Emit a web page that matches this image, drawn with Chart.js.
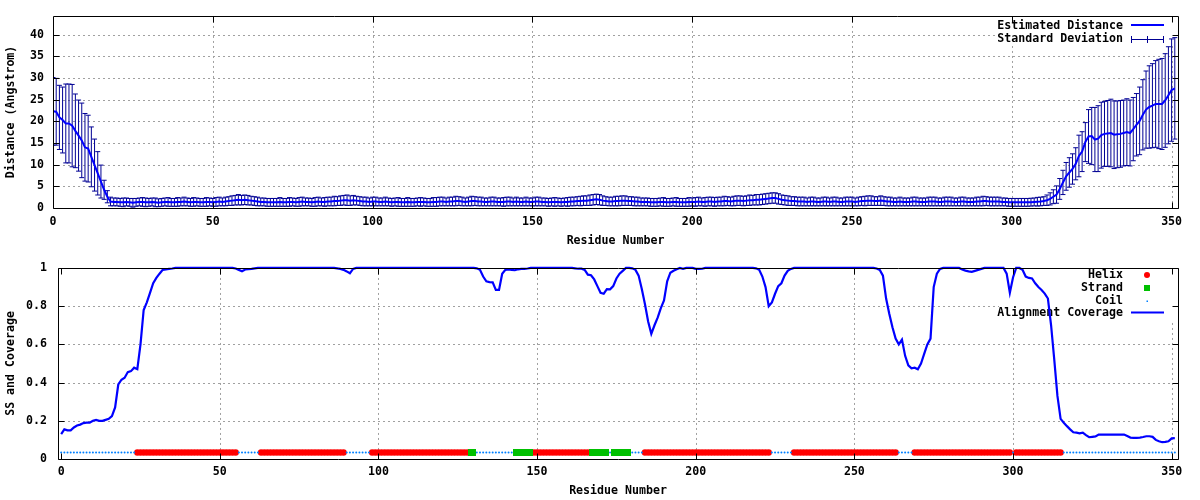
<!DOCTYPE html>
<html>
<head>
<meta charset="utf-8">
<script src="https://cdn.jsdelivr.net/npm/chart.js@4.4.0/dist/chart.umd.min.js"></script>
<style>
  html, body { margin: 0; padding: 0; background: #fff; }
  .panel { position: absolute; left: 0; width: 1200px; height: 250px; }
</style>
</head>
<body>
<div class="panel" style="top:0"><canvas id="distChart" width="1200" height="250"></canvas></div>
<div class="panel" style="top:250px"><canvas id="covChart" width="1200" height="250"></canvas></div>

<script>
/* ═══════════════════════════════════════════
   Distance / SS & coverage plot
═══════════════════════════════════════════ */

// ── Data ──
const residueTicks  = [0, 50, 100, 150, 200, 250, 300, 350];
const distanceTicks = [0, 5, 10, 15, 20, 25, 30, 35, 40];
const coverageTicks = [0, 0.2, 0.4, 0.6, 0.8, 1];

const distance = [
  22.3, 22.2, 20.9, 20.3, 19.5, 19.5, 19.0, 17.8, 16.7, 15.6,
  14.0, 13.7, 11.8, 9.9, 8.0, 6.1, 4.2, 2.6, 1.5, 1.4,
  1.4, 1.3, 1.3, 1.4, 1.3, 1.2, 1.3, 1.4, 1.4, 1.3,
  1.3, 1.4, 1.3, 1.2, 1.3, 1.4, 1.4, 1.3, 1.3, 1.4,
  1.4, 1.5, 1.4, 1.3, 1.4, 1.4, 1.3, 1.3, 1.4, 1.4,
  1.3, 1.4, 1.5, 1.4, 1.5, 1.6, 1.7, 1.8, 1.9, 1.8,
  1.9, 1.8, 1.7, 1.6, 1.5, 1.4, 1.4, 1.3, 1.3, 1.3,
  1.3, 1.4, 1.3, 1.3, 1.4, 1.4, 1.3, 1.4, 1.5, 1.4,
  1.4, 1.3, 1.4, 1.5, 1.4, 1.4, 1.5, 1.5, 1.6, 1.6,
  1.7, 1.8, 1.8, 1.7, 1.8, 1.7, 1.6, 1.5, 1.5, 1.4,
  1.5, 1.5, 1.4, 1.4, 1.5, 1.4, 1.3, 1.4, 1.4, 1.3,
  1.3, 1.4, 1.3, 1.3, 1.4, 1.4, 1.4, 1.3, 1.3, 1.4,
  1.4, 1.5, 1.5, 1.4, 1.5, 1.5, 1.6, 1.6, 1.5, 1.4,
  1.5, 1.6, 1.6, 1.5, 1.5, 1.4, 1.4, 1.5, 1.5, 1.4,
  1.4, 1.4, 1.5, 1.5, 1.4, 1.5, 1.4, 1.4, 1.5, 1.4,
  1.4, 1.5, 1.5, 1.4, 1.4, 1.3, 1.4, 1.4, 1.4, 1.3,
  1.4, 1.4, 1.5, 1.5, 1.6, 1.6, 1.7, 1.7, 1.8, 1.9,
  2.0, 1.9, 1.7, 1.6, 1.5, 1.5, 1.6, 1.6, 1.7, 1.7,
  1.6, 1.6, 1.5, 1.5, 1.4, 1.4, 1.4, 1.3, 1.3, 1.3,
  1.4, 1.4, 1.3, 1.3, 1.4, 1.4, 1.3, 1.3, 1.3, 1.4,
  1.4, 1.4, 1.5, 1.4, 1.4, 1.5, 1.5, 1.4, 1.5, 1.5,
  1.6, 1.6, 1.5, 1.6, 1.7, 1.7, 1.6, 1.7, 1.8, 1.8,
  1.9, 1.9, 2.0, 2.1, 2.2, 2.3, 2.3, 2.1, 1.9, 1.8,
  1.7, 1.6, 1.6, 1.5, 1.5, 1.5, 1.4, 1.5, 1.5, 1.4,
  1.4, 1.5, 1.5, 1.4, 1.5, 1.5, 1.4, 1.4, 1.5, 1.5,
  1.5, 1.4, 1.5, 1.6, 1.6, 1.7, 1.7, 1.6, 1.6, 1.7,
  1.6, 1.5, 1.5, 1.4, 1.4, 1.5, 1.4, 1.4, 1.4, 1.5,
  1.5, 1.4, 1.4, 1.4, 1.5, 1.5, 1.5, 1.4, 1.4, 1.5,
  1.5, 1.5, 1.4, 1.4, 1.5, 1.5, 1.4, 1.4, 1.4, 1.5,
  1.5, 1.6, 1.6, 1.5, 1.5, 1.5, 1.5, 1.4, 1.4, 1.3,
  1.3, 1.3, 1.3, 1.3, 1.3, 1.3, 1.35, 1.4, 1.45, 1.5,
  1.6, 1.8, 2.1, 2.6, 3.1, 4.4, 5.9, 7.3, 8.2, 9.0,
  10.2, 12.0, 13.0, 15.2, 16.5, 16.6, 15.8, 16.0, 16.8, 17.1,
  17.2, 17.3, 16.9, 17.0, 17.1, 17.3, 17.5, 17.3, 18.2, 19.2,
  20.1, 21.5, 22.7, 23.3, 23.6, 24.0, 24.0, 24.0, 24.8, 26.0,
  27.2, 27.6
];

const stdDev = [
  7.8, 7.7, 7.4, 7.6, 9.1, 9.1, 9.5, 8.5, 8.2, 8.6,
  7.8, 7.7, 6.9, 6.0, 5.0, 3.8, 2.2, 1.4, 1.0, 0.9,
  0.9, 0.9, 1.0, 0.9, 0.9, 1.0, 0.9, 0.9, 1.0, 1.0,
  0.9, 0.9, 1.0, 0.9, 0.9, 0.9, 1.0, 0.9, 0.9, 1.0,
  0.9, 1.0, 0.9, 0.9, 1.0, 0.9, 0.9, 0.9, 1.0, 0.9,
  0.9, 1.0, 1.0, 0.9, 1.0, 1.0, 1.1, 1.1, 1.2, 1.1,
  1.1, 1.1, 1.0, 1.0, 1.0, 0.9, 0.9, 0.9, 0.9, 0.9,
  0.9, 1.0, 0.9, 0.9, 1.0, 0.9, 0.9, 1.0, 1.0, 0.9,
  0.9, 0.9, 1.0, 1.0, 0.9, 1.0, 1.0, 1.0, 1.1, 1.0,
  1.1, 1.1, 1.2, 1.1, 1.1, 1.0, 1.0, 1.0, 1.0, 0.9,
  1.0, 1.0, 0.9, 0.9, 1.0, 0.9, 0.9, 0.9, 1.0, 0.9,
  0.9, 1.0, 0.9, 0.9, 0.9, 1.0, 0.9, 0.9, 0.9, 1.0,
  1.0, 1.0, 1.0, 0.9, 1.0, 1.0, 1.1, 1.0, 1.0, 0.9,
  1.0, 1.1, 1.0, 1.0, 1.0, 0.9, 0.9, 1.0, 1.0, 0.9,
  0.9, 1.0, 1.0, 1.0, 0.9, 1.0, 0.9, 0.9, 1.0, 0.9,
  0.9, 1.0, 1.0, 0.9, 0.9, 0.9, 0.9, 1.0, 0.9, 0.9,
  0.9, 1.0, 1.0, 1.0, 1.0, 1.1, 1.1, 1.1, 1.2, 1.2,
  1.2, 1.2, 1.1, 1.0, 1.0, 1.0, 1.1, 1.1, 1.1, 1.1,
  1.0, 1.0, 1.0, 1.0, 0.9, 0.9, 0.9, 0.9, 0.9, 0.9,
  0.9, 1.0, 0.9, 0.9, 0.9, 1.0, 0.9, 0.9, 0.9, 1.0,
  0.9, 1.0, 1.0, 0.9, 1.0, 1.0, 1.0, 1.0, 1.0, 1.0,
  1.1, 1.0, 1.0, 1.1, 1.1, 1.1, 1.1, 1.1, 1.2, 1.1,
  1.2, 1.2, 1.2, 1.2, 1.2, 1.2, 1.2, 1.2, 1.1, 1.1,
  1.1, 1.0, 1.0, 1.0, 1.0, 1.0, 0.9, 1.0, 1.0, 0.9,
  0.9, 1.0, 1.0, 0.9, 1.0, 1.0, 0.9, 0.9, 1.0, 1.0,
  1.0, 0.9, 1.0, 1.0, 1.1, 1.1, 1.1, 1.0, 1.0, 1.1,
  1.0, 1.0, 1.0, 0.9, 0.9, 1.0, 0.9, 0.9, 0.9, 1.0,
  1.0, 0.9, 0.9, 0.9, 1.0, 1.0, 1.0, 0.9, 0.9, 1.0,
  1.0, 1.0, 0.9, 0.9, 1.0, 1.0, 0.9, 0.9, 0.9, 1.0,
  1.0, 1.1, 1.0, 1.0, 1.0, 1.0, 1.0, 0.9, 0.9, 0.9,
  0.9, 0.9, 0.9, 0.9, 0.9, 0.9, 0.9, 0.9, 1.0, 1.0,
  1.0, 1.2, 1.4, 1.6, 2.0, 2.4, 2.8, 3.2, 3.4, 3.5,
  3.7, 4.8, 4.6, 4.5, 6.2, 6.6, 7.4, 7.6, 7.6, 7.5,
  7.6, 7.8, 7.8, 7.7, 7.7, 7.6, 7.7, 7.6, 7.3, 7.2,
  7.8, 8.1, 8.9, 9.5, 9.7, 10.0, 10.3, 10.5, 10.8, 11.2,
  11.8, 11.7
];

const coverage = [
  0.13, 0.155, 0.15, 0.15, 0.165, 0.175, 0.18, 0.188, 0.19, 0.19,
  0.2, 0.205, 0.2, 0.2, 0.205, 0.21, 0.225, 0.27, 0.39, 0.415,
  0.425, 0.455, 0.46, 0.478, 0.47, 0.6, 0.78, 0.82, 0.87, 0.92,
  0.948, 0.97, 0.99, 0.993, 0.995, 0.997, 1, 1, 1, 1,
  1, 1, 1, 1, 1, 1, 1, 1, 1, 1,
  1, 1, 1, 1, 1, 0.997, 0.99, 0.983, 0.992, 0.994,
  0.995, 0.998, 1, 1, 1, 1, 1, 1, 1, 1,
  1, 1, 1, 1, 1, 1, 1, 1, 1, 1,
  1, 1, 1, 1, 1, 1, 1, 0.998, 0.995, 0.99,
  0.982, 0.972, 0.995, 1, 1, 1, 1, 1, 1, 1,
  1, 1, 1, 1, 1, 1, 1, 1, 1, 1,
  1, 1, 1, 1, 1, 1, 1, 1, 1, 1,
  1, 1, 1, 1, 1, 1, 1, 1, 1, 1,
  1, 0.998, 0.99, 0.955, 0.93, 0.926, 0.925, 0.885, 0.885, 0.97,
  0.99, 0.992, 0.99, 0.988, 0.993, 0.995, 0.995, 0.997, 1, 1,
  1, 1, 1, 1, 1, 1, 1, 1, 1, 1,
  1, 1, 0.998, 0.996, 0.996, 0.99, 0.965, 0.962, 0.94, 0.905,
  0.87, 0.865, 0.889, 0.888, 0.905, 0.945, 0.97, 0.985, 1, 1,
  0.998, 0.99, 0.96, 0.89, 0.81, 0.72, 0.655, 0.7, 0.74, 0.79,
  0.83, 0.93, 0.975, 0.985, 0.993, 1, 0.995, 1, 1, 1,
  0.995, 0.995, 0.996, 1, 1, 1, 1, 1, 1, 1,
  1, 1, 1, 1, 1, 1, 1, 1, 1, 0.998,
  0.99, 0.955, 0.9, 0.8, 0.82, 0.865, 0.905, 0.92, 0.96, 0.985,
  0.995, 1, 1, 1, 1, 1, 1, 1, 1, 1,
  1, 1, 1, 1, 1, 1, 1, 1, 1, 1,
  1, 1, 1, 1, 1, 1, 1, 0.997, 0.99, 0.96,
  0.84, 0.76, 0.69, 0.63, 0.6, 0.625, 0.54, 0.49, 0.475, 0.478,
  0.47, 0.5, 0.55, 0.6, 0.63, 0.9, 0.97, 0.995, 1, 1,
  1, 1, 1, 1, 0.992, 0.986, 0.982, 0.98, 0.985, 0.99,
  0.995, 1, 1, 1, 1, 1, 1, 1, 0.97, 0.87,
  0.95, 1, 1, 0.99, 0.955, 0.948, 0.945, 0.92, 0.9, 0.885,
  0.866, 0.84, 0.7, 0.52, 0.33, 0.21, 0.19, 0.172, 0.155, 0.14,
  0.138, 0.134, 0.138, 0.125, 0.114, 0.116, 0.118, 0.128, 0.128, 0.128,
  0.128, 0.128, 0.128, 0.128, 0.128, 0.128, 0.12, 0.112, 0.111, 0.111,
  0.112, 0.115, 0.119, 0.119, 0.116, 0.1, 0.093, 0.088, 0.09, 0.093,
  0.108, 0.109
];

// secondary structure, as [first, last] residue runs
const helixRuns  = [[24, 55], [63, 89], [98, 128], [149, 166], [184, 223], [231, 263], [269, 299], [301, 315]];
const strandRuns = [[129, 130], [143, 148], [167, 172], [174, 179]];
const SS_LEVEL   = 0.034;

const residues = distance.map((_, i) => i);

// ── Derived point lists ──
const inRuns = (r, runs) => runs.some(([a, b]) => r >= a && r <= b);

const distPts = residues.map(r => ({ x: r, y: distance[r] }));
const whiskerPts = [];
residues.forEach(r => {
  whiskerPts.push({ x: r, y: distance[r] - stdDev[r] });
  whiskerPts.push({ x: r, y: distance[r] + stdDev[r] });
  whiskerPts.push({ x: r, y: null });
});

const covPts    = residues.map(r => ({ x: r, y: coverage[r] }));
const helixPts  = residues.filter(r => inRuns(r, helixRuns)).map(r => ({ x: r, y: SS_LEVEL }));
const strandPts = residues.filter(r => inRuns(r, strandRuns)).map(r => ({ x: r, y: SS_LEVEL }));
const coilPts   = residues.filter(r => !inRuns(r, helixRuns) && !inRuns(r, strandRuns)).map(r => ({ x: r, y: SS_LEVEL }));

// ── Look ──
const FONT = { family: "'DejaVu Sans Mono', monospace", size: 11.6, weight: 'bold', lineHeight: 1.2 };
const CSS_FONT = "bold 11.6px 'DejaVu Sans Mono', monospace";

const BLUE   = '#0000ff';
const NAVY   = '#000094';
const RED    = '#ff0000';
const GREEN  = '#00c000';
const COIL   = '#0080ff';

Chart.defaults.font  = FONT;
Chart.defaults.color = '#000';

// strand marker: a narrow filled box, so neighbouring runs keep a gap
const strandMark = document.createElement('canvas');
strandMark.width = 4; strandMark.height = 7;
(c => { c.fillStyle = GREEN; c.fillRect(0, 0, 4, 7); })(strandMark.getContext('2d'));

// ── gnuplot-like frame: dashed grid, opaque key, border, inward tics ──
function drawSample(ctx, s, x, y) {
  ctx.save();
  if (s.kind === 'line') {
    ctx.strokeStyle = s.color; ctx.lineWidth = 2;
    ctx.beginPath(); ctx.moveTo(x - 16, y); ctx.lineTo(x + 17, y); ctx.stroke();
  } else if (s.kind === 'errbar') {
    ctx.strokeStyle = s.color; ctx.lineWidth = 1;
    ctx.beginPath();
    ctx.moveTo(x - 16, y + 0.5); ctx.lineTo(x + 17, y + 0.5);
    [x - 15.5, x + 0.5, x + 16.5].forEach(px => { ctx.moveTo(px, y - 3); ctx.lineTo(px, y + 4); });
    ctx.stroke();
  } else if (s.kind === 'circle') {
    ctx.fillStyle = s.color;
    ctx.beginPath(); ctx.arc(x, y, 3, 0, Math.PI * 2); ctx.fill();
  } else if (s.kind === 'square') {
    ctx.fillStyle = s.color; ctx.fillRect(x - 3, y - 3, 6, 6);
  } else if (s.kind === 'dot') {
    ctx.fillStyle = s.color; ctx.fillRect(x - 0.5, y - 0.5, 1.5, 1.5);
  }
  ctx.restore();
}

const gnuFrame = {
  id: 'gnuFrame',
  beforeDatasetsDraw(chart, args, o) {
    const { ctx, chartArea: a, scales: { x, y } } = chart;
    ctx.save();
    ctx.strokeStyle = '#a0a0a0';
    ctx.lineWidth = 1;
    ctx.setLineDash([2, 3]);
    ctx.beginPath();
    o.gridX.forEach(v => {
      const px = Math.round(x.getPixelForValue(v)) + 0.5;
      ctx.moveTo(px, a.top); ctx.lineTo(px, a.bottom);
    });
    o.gridY.forEach(v => {
      const py = Math.round(y.getPixelForValue(v)) + 0.5;
      ctx.moveTo(a.left, py); ctx.lineTo(a.right, py);
    });
    ctx.stroke();
    ctx.setLineDash([]);

    // key
    const k = o.key;
    ctx.fillStyle = '#fff';
    ctx.fillRect(k.box[0], k.box[1], k.box[2], k.box[3]);
    ctx.font = CSS_FONT;
    ctx.textAlign = 'right';
    ctx.textBaseline = 'middle';
    k.items.forEach(it => {
      ctx.fillStyle = '#000';
      ctx.fillText(it.text, k.textX, it.y);
      drawSample(ctx, it.sample, k.sampleX, it.sy !== undefined ? it.sy : it.y);
    });
    ctx.restore();
  },
  afterDraw(chart, args, o) {
    const { ctx, chartArea: a, scales: { x, y } } = chart;
    const L = Math.round(a.left) + 0.5, R = Math.round(a.right) + 0.5;
    const T = Math.round(a.top) + 0.5,  B = Math.round(a.bottom) + 0.5;
    ctx.save();
    ctx.strokeStyle = '#000';
    ctx.lineWidth = 1;
    ctx.beginPath();
    ctx.rect(L, T, R - L, B - T);
    o.gridX.concat(o.extraTicX || []).forEach(v => {
      const px = Math.round(x.getPixelForValue(v)) + 0.5;
      ctx.moveTo(px, B); ctx.lineTo(px, B - 6);
      ctx.moveTo(px, T); ctx.lineTo(px, T + 6);
    });
    o.ticY.forEach(v => {
      const py = Math.round(y.getPixelForValue(v)) + 0.5;
      ctx.moveTo(L, py); ctx.lineTo(L + 6, py);
      ctx.moveTo(R, py); ctx.lineTo(R - 6, py);
    });
    ctx.stroke();
    ctx.restore();
  }
};

// ── Shared axis builder ──
function axis(min, max, ticks, size, pad, title, titlePad, isX) {
  return {
    type: 'linear', min, max,
    grid: { display: false, drawTicks: false },
    border: { display: false },
    afterBuildTicks: s => { s.ticks = ticks.map(v => ({ value: v })); },
    afterFit: s => { if (isX) s.height = size; else s.width = size; },
    ticks: { padding: pad, maxRotation: 0, autoSkip: false, color: '#000', font: FONT,
             callback: v => String(v) },
    title: { display: true, text: title, color: '#000', font: FONT, padding: titlePad }
  };
}

// ── Top panel: distance ──
new Chart(document.getElementById('distChart'), {
  type: 'scatter',
  data: {
    datasets: [
      { label: 'Estimated Distance', data: distPts, showLine: true,
        borderColor: BLUE, borderWidth: 2, pointRadius: 0, order: 0 },
      { label: 'Standard Deviation', data: whiskerPts, showLine: true, spanGaps: false,
        borderColor: NAVY, borderWidth: 1, pointStyle: 'line', pointRadius: 2.5,
        pointBorderColor: NAVY, pointBorderWidth: 1, order: 1 }
    ]
  },
  options: {
    responsive: false, animation: false, events: [],
    layout: { padding: { left: 0, top: 14, right: 22, bottom: 0 } },
    plugins: {
      legend: { display: false }, tooltip: { enabled: false },
      gnuFrame: {
        gridX: residueTicks.slice(1), gridY: distanceTicks.slice(1),
        extraTicX: [], ticY: distanceTicks,
        key: {
          box: [995, 15, 180, 31], textX: 1123, sampleX: 1147,
          items: [
            { text: 'Estimated Distance', y: 26, sy: 25, sample: { kind: 'line', color: BLUE } },
            { text: 'Standard Deviation', y: 39, sy: 39, sample: { kind: 'errbar', color: NAVY } }
          ]
        }
      }
    },
    scales: {
      x: axis(0, 352, residueTicks, 42, 7, 'Residue Number', { top: 0, bottom: 2 }, true),
      y: axis(0, 44.3, distanceTicks, 53, 9, 'Distance (Angstrom)', { top: 4, bottom: 0 }, false)
    }
  },
  plugins: [gnuFrame]
});

// ── Bottom panel: secondary structure and coverage ──
new Chart(document.getElementById('covChart'), {
  type: 'scatter',
  data: {
    datasets: [
      { label: 'Alignment Coverage', data: covPts, showLine: true, clip: 3,
        borderColor: BLUE, borderWidth: 2.2, pointRadius: 0, order: 0 },
      { label: 'Helix', data: helixPts, pointStyle: 'circle', pointRadius: 3.2,
        backgroundColor: RED, borderColor: RED, borderWidth: 0, order: 3 },
      { label: 'Strand', data: strandPts, pointStyle: strandMark, pointRadius: 4,
        backgroundColor: GREEN, borderColor: GREEN, borderWidth: 0, order: 1 },
      { label: 'Coil', data: coilPts, pointStyle: 'circle', pointRadius: 1,
        backgroundColor: COIL, borderColor: COIL, borderWidth: 0, order: 2 }
    ]
  },
  options: {
    responsive: false, animation: false, events: [],
    layout: { padding: { left: 0, top: 13, right: 22, bottom: 0 } },
    plugins: {
      legend: { display: false }, tooltip: { enabled: false },
      gnuFrame: {
        gridX: residueTicks.slice(1), gridY: coverageTicks.slice(1, -1),
        extraTicX: [0], ticY: coverageTicks,
        key: {
          box: [999, 14, 176, 58], textX: 1123, sampleX: 1147,
          items: [
            { text: 'Helix',  y: 25, sample: { kind: 'circle', color: RED } },
            { text: 'Strand', y: 38, sample: { kind: 'square', color: GREEN } },
            { text: 'Coil',   y: 51, sample: { kind: 'dot', color: COIL } },
            { text: 'Alignment Coverage', y: 63, sy: 62.5, sample: { kind: 'line', color: BLUE } }
          ]
        }
      }
    },
    scales: {
      x: axis(-1, 352, residueTicks, 41, 6, 'Residue Number', { top: 0, bottom: 2 }, true),
      y: axis(0, 1, coverageTicks, 58, 11, 'SS and Coverage', { top: 4, bottom: 0 }, false)
    }
  },
  plugins: [gnuFrame]
});
</script>
</body>
</html>
